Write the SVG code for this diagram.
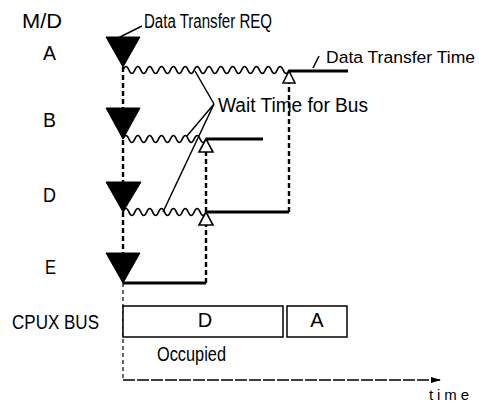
<svg xmlns="http://www.w3.org/2000/svg" width="479" height="402" viewBox="0 0 479 402">
<defs>
<style>
text{font-family:"Liberation Sans",Arial,sans-serif;font-size:20px;fill:#000}
.tri{fill:#000;stroke:#000;stroke-width:1}
.hol{fill:#fff;stroke:#000;stroke-width:1.6}
.wave{fill:none;stroke:#000;stroke-width:1.7}
.thick{fill:none;stroke:#000;stroke-width:3}
.dash{fill:none;stroke:#000;stroke-width:2.4;stroke-dasharray:5,3}
.thin{fill:none;stroke:#000;stroke-width:1.5}
.box{fill:#fff;stroke:#000;stroke-width:1.5}
</style>
<marker id="arr" markerWidth="10" markerHeight="8" refX="9" refY="4" orient="auto" markerUnits="userSpaceOnUse">
<path d="M0,1 L10,4 L0,7 Z" fill="#000"/>
</marker>
</defs>
<rect width="479" height="402" fill="#fff"/>

<g id="labels">
<text x="22" y="28" textLength="40" lengthAdjust="spacingAndGlyphs">M/D</text>
<text x="12" y="329" textLength="87" lengthAdjust="spacingAndGlyphs">CPUX BUS</text>
</g>

<g id="connectors">
<path class="dash" d="M123,67 V108 M123,140 V182 M123,212 V253"/>
<path fill="none" stroke="#000" stroke-width="1.2" stroke-dasharray="4,3" d="M123,283 V380"/>
<path fill="none" stroke="#000" stroke-width="1.3" stroke-dasharray="12,2" d="M123,380 H440" marker-end="url(#arr)"/>
<path class="dash" d="M206,283 V225 M206,212 V152"/>
<path class="dash" d="M289,212 V83"/>
<path class="thin" d="M214,104 L195,71 M214,104 L187,136 M214,104 L163,212"/>
<path class="thin" d="M118,38 L142,26"/>
<path class="thin" d="M313,68 L319,56"/>
</g>

<g id="row-A">
<text x="43" y="60" textLength="13" lengthAdjust="spacingAndGlyphs">A</text>
<polygon class="tri" points="106,37 140,37 123,67"/>
<path class="wave" d="M123,70 q3,-7 5.93,0 t5.93,0 t5.93,0 t5.93,0 t5.93,0 t5.93,0 t5.93,0 t5.93,0 t5.93,0 t5.93,0 t5.93,0 t5.93,0 t5.93,0 t5.93,0 t5.93,0 t5.93,0 t5.93,0 t5.93,0 t5.93,0 t5.93,0 t5.93,0 t5.93,0 t5.93,0 t5.93,0 t5.93,0 t5.93,0 t5.93,0 t5.93,0"/>
<path class="thick" d="M289,71 H348"/>
<polygon class="hol" points="289,71 283,83 295,83"/>
</g>

<g id="row-B">
<text x="43" y="127" textLength="13" lengthAdjust="spacingAndGlyphs">B</text>
<polygon class="tri" points="106,108 140,108 123,139"/>
<path class="wave" d="M123,139 q3,-7 5.93,0 t5.93,0 t5.93,0 t5.93,0 t5.93,0 t5.93,0 t5.93,0 t5.93,0 t5.93,0 t5.93,0 t5.93,0 t5.93,0 t5.93,0 t5.93,0"/>
<path class="thick" d="M206,139 H263"/>
<polygon class="hol" points="206,139 199,152 213,152"/>
</g>

<g id="row-D">
<text x="43" y="202" textLength="13" lengthAdjust="spacingAndGlyphs">D</text>
<polygon class="tri" points="106,182 141,182 123,212"/>
<path class="wave" d="M123,212 q3,-7 5.93,0 t5.93,0 t5.93,0 t5.93,0 t5.93,0 t5.93,0 t5.93,0 t5.93,0 t5.93,0 t5.93,0 t5.93,0 t5.93,0 t5.93,0 t5.93,0"/>
<path class="thick" d="M206,212 H289"/>
<polygon class="hol" points="206,212 199,225 213,225"/>
</g>

<g id="row-E">
<text x="45" y="274" textLength="11" lengthAdjust="spacingAndGlyphs">E</text>
<polygon class="tri" points="106,253 140,253 123,283"/>
<path class="thick" d="M123,283 H206"/>
</g>

<g id="bus-D">
<rect class="box" x="123" y="306" width="160" height="31"/>
<text x="205" y="327" text-anchor="middle">D</text>
</g>
<g id="bus-A">
<rect class="box" x="287" y="306" width="60" height="31"/>
<text x="317" y="327" text-anchor="middle">A</text>
</g>

<g id="annotations">
<text x="144" y="28" textLength="128" lengthAdjust="spacingAndGlyphs">Data Transfer REQ</text>
<text x="218" y="112" textLength="150" lengthAdjust="spacingAndGlyphs">Wait Time for Bus</text>
<text x="326" y="63" style="font-size:17.4px" textLength="149" lengthAdjust="spacingAndGlyphs">Data Transfer Time</text>
<text x="157" y="361" textLength="69" lengthAdjust="spacingAndGlyphs">Occupied</text>
<text x="429" y="400" style="font-size:15px" textLength="40" lengthAdjust="spacing">time</text>
</g>
</svg>
